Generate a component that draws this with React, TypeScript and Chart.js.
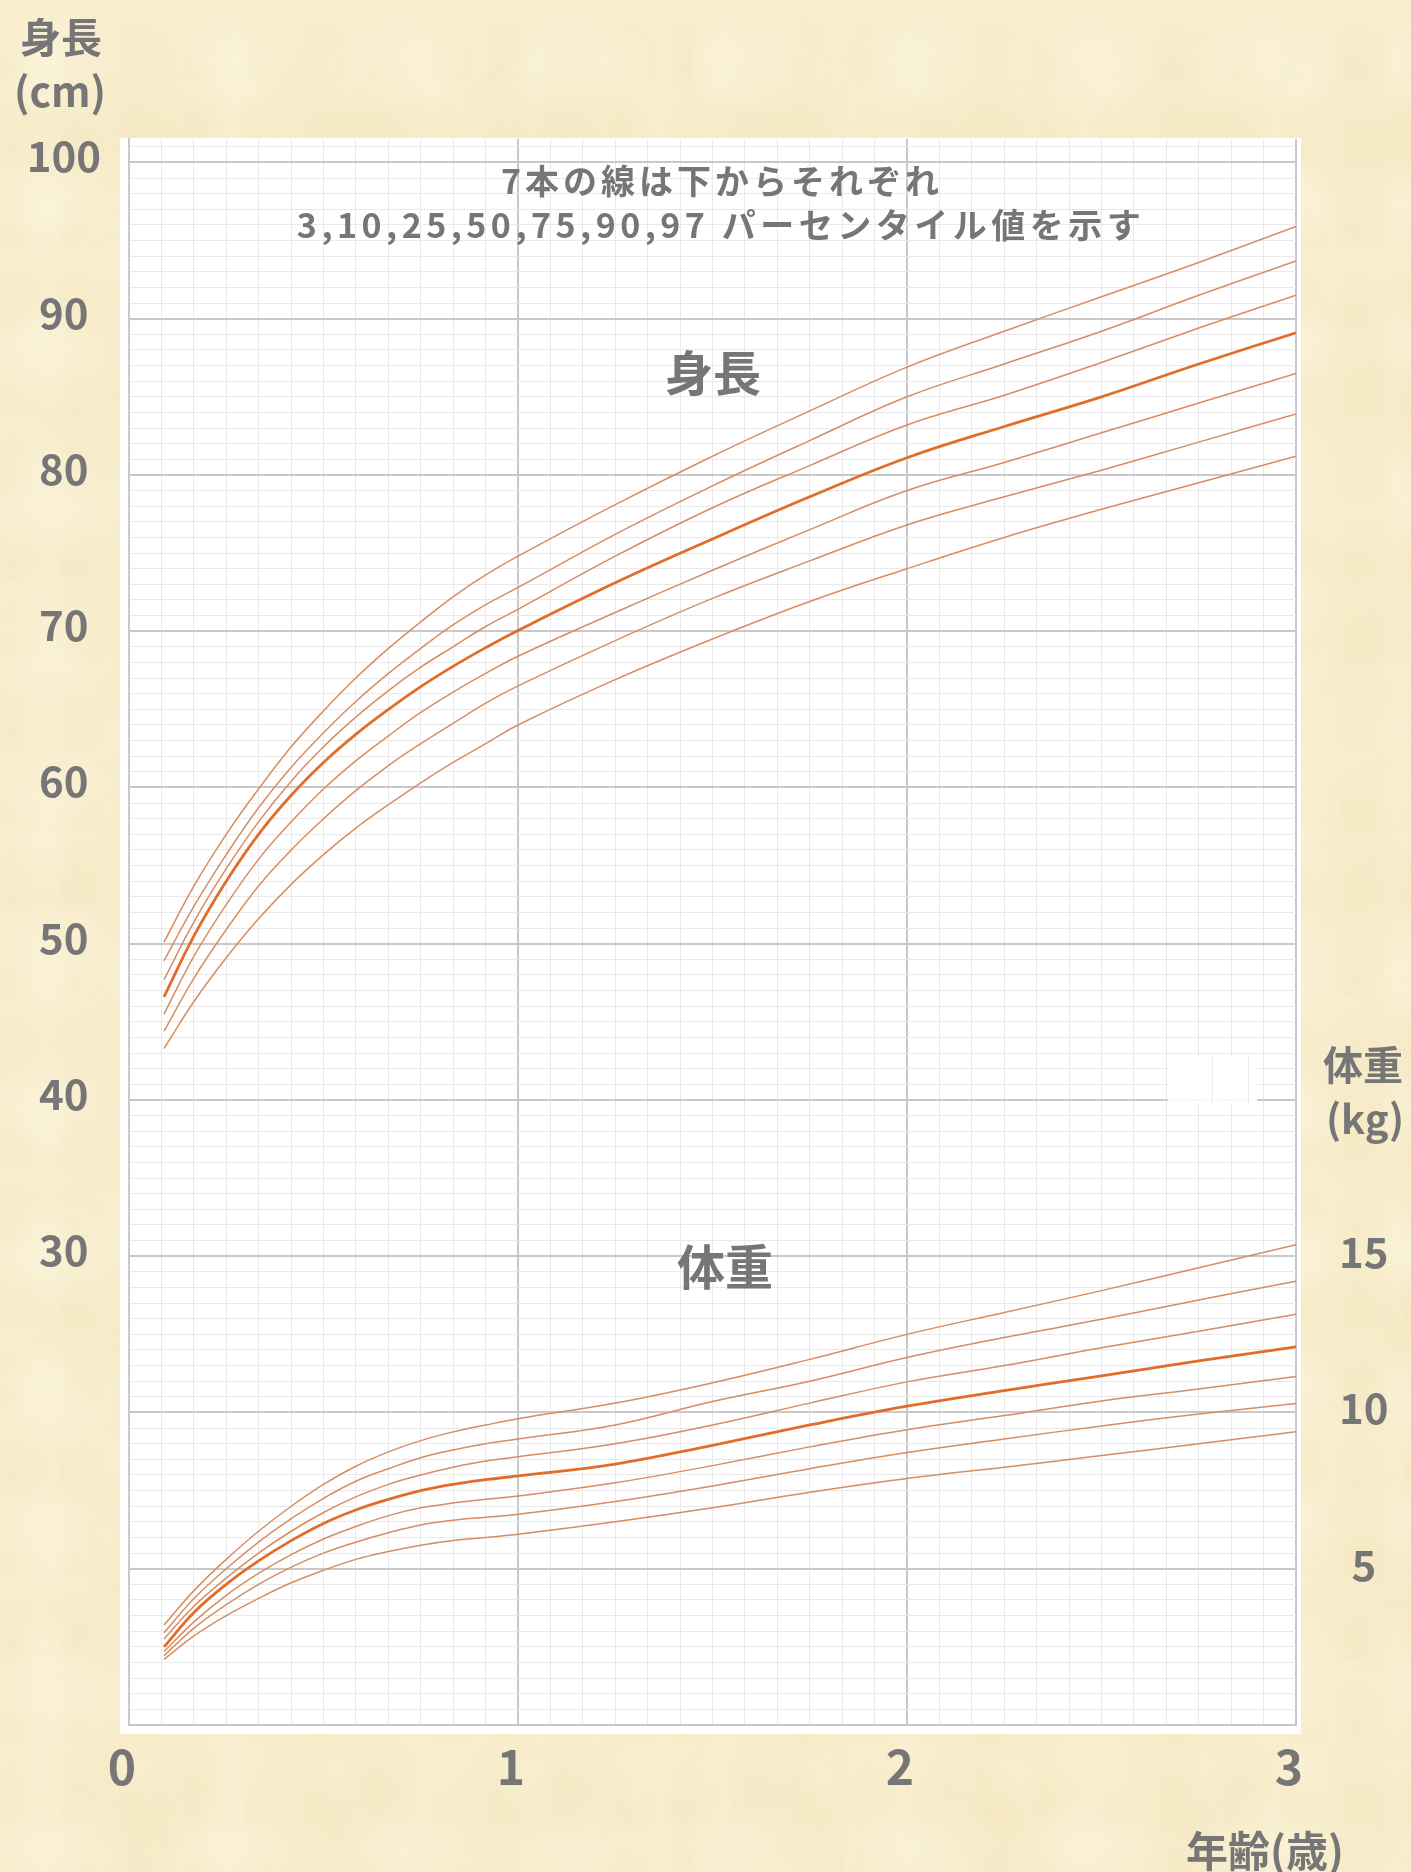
import React, { useEffect, useRef } from 'react';
import { Chart, registerables } from 'chart.js';

Chart.register(...registerables);

// ---- data ----
const ages = [0.09, 0.167, 0.25, 0.333, 0.417, 0.5, 0.583, 0.667, 0.75, 0.833, 0.917, 1.0, 1.25, 1.5, 1.75, 2.0, 2.25, 2.5, 2.75, 3.0];

const percentiles = ['3', '10', '25', '50', '75', '90', '97'];

const height3 = [43.3, 46.3, 49.1, 51.6, 53.8, 55.7, 57.4, 58.9, 60.3, 61.6, 62.8, 64.0, 66.9, 69.5, 71.9, 74.0, 76.0, 77.8, 79.5, 81.2];
const height10 = [44.4, 47.8, 50.9, 53.7, 56.0, 58.0, 59.8, 61.4, 62.8, 64.1, 65.4, 66.5, 69.4, 72.1, 74.5, 76.8, 78.6, 80.3, 82.1, 83.9];
const height25 = [45.5, 49.2, 52.5, 55.4, 57.8, 59.9, 61.7, 63.3, 64.8, 66.1, 67.3, 68.4, 71.2, 73.9, 76.5, 79.0, 80.8, 82.7, 84.6, 86.5];
const height50 = [46.6, 50.5, 54.0, 57.0, 59.5, 61.6, 63.4, 65.0, 66.45, 67.75, 68.95, 70.05, 73.1, 75.9, 78.6, 81.1, 83.1, 85.0, 87.1, 89.1];
const height75 = [47.7, 51.4, 54.8, 57.8, 60.4, 62.6, 64.5, 66.2, 67.7, 69.0, 70.3, 71.4, 74.8, 77.9, 80.6, 83.2, 85.1, 87.2, 89.4, 91.5];
const height90 = [48.9, 52.4, 55.7, 58.7, 61.3, 63.5, 65.5, 67.3, 68.9, 70.4, 71.7, 72.8, 76.2, 79.3, 82.2, 85.0, 87.1, 89.2, 91.5, 93.7];
const height97 = [50.1, 53.7, 57.0, 59.9, 62.6, 64.9, 67.0, 68.9, 70.6, 72.2, 73.6, 74.8, 78.1, 81.2, 84.1, 86.9, 89.2, 91.4, 93.6, 95.9];

const weight3 = [2.1, 2.85, 3.5, 4.05, 4.55, 4.95, 5.3, 5.55, 5.75, 5.9, 6.0, 6.1, 6.5, 6.95, 7.45, 7.89, 8.25, 8.62, 9.0, 9.38];
const weight10 = [2.22, 3.1, 3.85, 4.5, 5.05, 5.5, 5.85, 6.15, 6.4, 6.55, 6.65, 6.74, 7.15, 7.65, 8.2, 8.72, 9.15, 9.57, 9.95, 10.29];
const weight25 = [2.35, 3.3, 4.15, 4.85, 5.45, 5.95, 6.35, 6.7, 6.95, 7.1, 7.22, 7.33, 7.75, 8.3, 8.9, 9.45, 9.9, 10.37, 10.75, 11.15];
const weight50 = [2.5, 3.6, 4.5, 5.25, 5.9, 6.45, 6.88, 7.22, 7.5, 7.7, 7.85, 7.97, 8.35, 8.95, 9.6, 10.2, 10.7, 11.17, 11.65, 12.1];
const weight75 = [2.75, 3.8, 4.7, 5.5, 6.2, 6.8, 7.3, 7.7, 8.0, 8.25, 8.45, 8.58, 9.0, 9.6, 10.3, 10.98, 11.5, 12.07, 12.6, 13.14];
const weight90 = [2.95, 4.05, 5.0, 5.85, 6.6, 7.25, 7.8, 8.2, 8.55, 8.8, 9.0, 9.15, 9.6, 10.35, 11.0, 11.76, 12.4, 12.98, 13.6, 14.2];
const weight97 = [3.2, 4.3, 5.3, 6.2, 7.0, 7.7, 8.28, 8.74, 9.1, 9.38, 9.6, 9.8, 10.3, 10.95, 11.7, 12.5, 13.2, 13.9, 14.63, 15.37];

const heightSeries = [height3, height10, height25, height50, height75, height90, height97];
const weightSeries = [weight3, weight10, weight25, weight50, weight75, weight90, weight97];

const xTickLabels = ['0', '1', '2', '3'];
const heightTickLabels = [30, 40, 50, 60, 70, 80, 90, 100];
const weightTickLabels = [5, 10, 15];

// ---- style ----
const FONT = '"Noto Sans CJK JP", "Noto Sans", sans-serif';
const TEXT = '#767676';
const MAJOR = '#c9c9c9';
const MINOR = '#e9e9e9';
const THIN = '#d78d62';
const THICK = '#e26d2a';

const plotBg = {
  id: 'plotBg',
  beforeDraw(chart: any) {
    const { ctx, chartArea: a } = chart;
    ctx.save();
    ctx.fillStyle = '#ffffff';
    ctx.fillRect(a.left - 9, a.top - 1, a.right - a.left + 14, a.bottom - a.top + 10);
    ctx.restore();
  },
  beforeDatasetsDraw(chart: any) {
    // small white patch visible in the reference
    const { ctx, scales } = chart;
    const x0 = scales.x.getPixelForValue(2.671);
    const x1 = scales.x.getPixelForValue(2.9);
    const y0 = scales.y.getPixelForValue(42.8);
    const y1 = scales.y.getPixelForValue(39.8);
    ctx.save();
    ctx.fillStyle = 'rgba(255,255,255,0.9)';
    ctx.fillRect(x0, y0, x1 - x0, y1 - y0);
    ctx.strokeStyle = '#ececec';
    ctx.lineWidth = 1;
    const xa = scales.x.getPixelForValue(2.785);
    const xb = scales.x.getPixelForValue(2.878);
    ctx.beginPath();
    ctx.moveTo(xa, y0);
    ctx.lineTo(xa, y1);
    ctx.moveTo(xb, y0);
    ctx.lineTo(xb, y1);
    ctx.stroke();
    ctx.restore();
  },
};

function Label(props: { x: number; y: number; size: number; text: string; spacing?: number }) {
  return (
    <div
      style={{
        position: 'absolute',
        left: props.x,
        top: props.y,
        transform: 'translate(-50%, -50%)',
        fontFamily: FONT,
        fontWeight: 700,
        fontSize: props.size,
        letterSpacing: props.spacing ? props.spacing : 0,
        color: TEXT,
        whiteSpace: 'nowrap',
        lineHeight: 1,
      }}
    >
      {props.text}
    </div>
  );
}

export default function App() {
  const ref = useRef<HTMLCanvasElement | null>(null);

  useEffect(() => {
    document.body.style.margin = '0';
    const canvas = ref.current;
    if (!canvas) return;

    const datasets: any[] = [];
    percentiles.forEach((p, i) => {
      const isMid = p === '50';
      datasets.push({
        label: '身長 ' + p,
        data: ages.map((a, j) => ({ x: a, y: heightSeries[i][j] })),
        yAxisID: 'y',
        borderColor: isMid ? THICK : THIN,
        borderWidth: isMid ? 2.8 : 1.5,
        pointRadius: 0,
        fill: false,
        tension: 0.4,
      });
      datasets.push({
        label: '体重 ' + p,
        data: ages.map((a, j) => ({ x: a, y: weightSeries[i][j] })),
        yAxisID: 'yw',
        borderColor: isMid ? THICK : THIN,
        borderWidth: isMid ? 2.8 : 1.5,
        pointRadius: 0,
        fill: false,
        tension: 0.4,
      });
    });

    const isMajorX = (v: number) => Math.round(v * 12) % 12 === 0;
    const isMajorY = (v: number) => Math.round(v) % 10 === 0;

    const chart = new Chart(canvas, {
      type: 'line',
      data: { datasets },
      plugins: [plotBg],
      options: {
        responsive: false,
        animation: false,
        devicePixelRatio: 1,
        layout: { padding: { top: 139, left: 0, right: 0, bottom: 0 } },
        plugins: {
          legend: { display: false },
          tooltip: { enabled: false },
          title: { display: false },
        },
        elements: { point: { radius: 0 } },
        scales: {
          x: {
            type: 'linear',
            min: 0,
            max: 3,
            position: 'bottom',
            afterBuildTicks: (s: any) => {
              s.ticks = Array.from({ length: 37 }, (_, i) => ({ value: i / 12 }));
            },
            afterFit: (s: any) => {
              s.height = 147;
            },
            grid: {
              drawTicks: false,
              color: (c: any) => (c.tick && isMajorX(c.tick.value) ? MAJOR : MINOR),
              lineWidth: (c: any) => (c.tick && isMajorX(c.tick.value) ? 2 : 1),
            },
            border: { color: MAJOR, width: 2 },
            ticks: {
              autoSkip: false,
              maxRotation: 0,
              padding: 13,
              labelOffset: -7,
              color: TEXT,
              font: { family: FONT, size: 48, weight: 'bold' },
              callback: (v: any) => {
                const m = Math.round(Number(v) * 12);
                return m % 12 === 0 ? xTickLabels[m / 12] : '';
              },
            },
          },
          y: {
            type: 'linear',
            min: 0,
            max: 101.5,
            position: 'left',
            afterBuildTicks: (s: any) => {
              s.ticks = Array.from({ length: 102 }, (_, i) => ({ value: i }));
            },
            afterFit: (s: any) => {
              s.width = 129;
            },
            grid: {
              drawTicks: false,
              color: (c: any) => (c.tick && isMajorY(c.tick.value) ? MAJOR : MINOR),
              lineWidth: (c: any) => (c.tick && isMajorY(c.tick.value) ? 2 : 1),
            },
            border: { color: MAJOR, width: 2 },
            ticks: {
              autoSkip: false,
              padding: 28,
              crossAlign: 'center',
              labelOffset: -6,
              color: TEXT,
              font: { family: FONT, size: 42, weight: 'bold' },
              callback: (v: any) => (heightTickLabels.includes(Math.round(Number(v))) ? String(Math.round(Number(v))) : ''),
            },
          },
          yw: {
            type: 'linear',
            min: 0,
            max: 50.75,
            position: 'right',
            afterBuildTicks: (s: any) => {
              s.ticks = weightTickLabels.map((v) => ({ value: v }));
            },
            afterFit: (s: any) => {
              s.width = 115;
            },
            grid: { display: false, drawTicks: false, drawOnChartArea: false },
            border: { display: false },
            ticks: {
              autoSkip: false,
              padding: 43,
              crossAlign: 'center',
              labelOffset: -4,
              color: TEXT,
              font: { family: FONT, size: 42, weight: 'bold' },
              callback: (v: any) => String(v),
            },
          },
        },
      } as any,
    });

    return () => chart.destroy();
  }, []);

  return (
    <div
      style={{
        position: 'absolute',
        left: 0,
        top: 0,
        width: 1411,
        height: 1872,
        overflow: 'hidden',
        backgroundColor: '#f8edcc',
        backgroundImage:
          'radial-gradient(ellipse at 30% 40%, rgba(255,252,240,0.28) 0%, rgba(255,252,240,0) 50%),' +
          'radial-gradient(ellipse at 70% 60%, rgba(236,220,172,0.2) 0%, rgba(236,220,172,0) 55%),' +
          'radial-gradient(ellipse at 45% 55%, rgba(255,250,232,0.22) 0%, rgba(255,250,232,0) 45%),' +
          'radial-gradient(ellipse at 20% 80%, rgba(238,222,176,0.18) 0%, rgba(238,222,176,0) 50%)',
        backgroundSize: '173px 149px, 211px 239px, 97px 131px, 61px 83px',
      }}
    >
      <canvas ref={ref} width={1411} height={1872} style={{ position: 'absolute', left: 0, top: 0, width: 1411, height: 1872 }} />
      <Label x={61} y={35} size={41} text="身長" />
      <Label x={60} y={89} size={41} text="(cm)" />
      <Label x={1363} y={1063} size={40} text="体重" />
      <Label x={1365} y={1117} size={40} text="(kg)" />
      <Label x={1265} y={1849} size={42} text="年齢(歳)" />
      <Label x={722} y={180} size={34} spacing={4} text="7本の線は下からそれぞれ" />
      <Label x={721} y={224} size={34} spacing={4.5} text="3,10,25,50,75,90,97 パーセンタイル値を示す" />
      <Label x={713} y={370} size={48} text="身長" />
      <Label x={725} y={1264} size={48} text="体重" />
    </div>
  );
}
